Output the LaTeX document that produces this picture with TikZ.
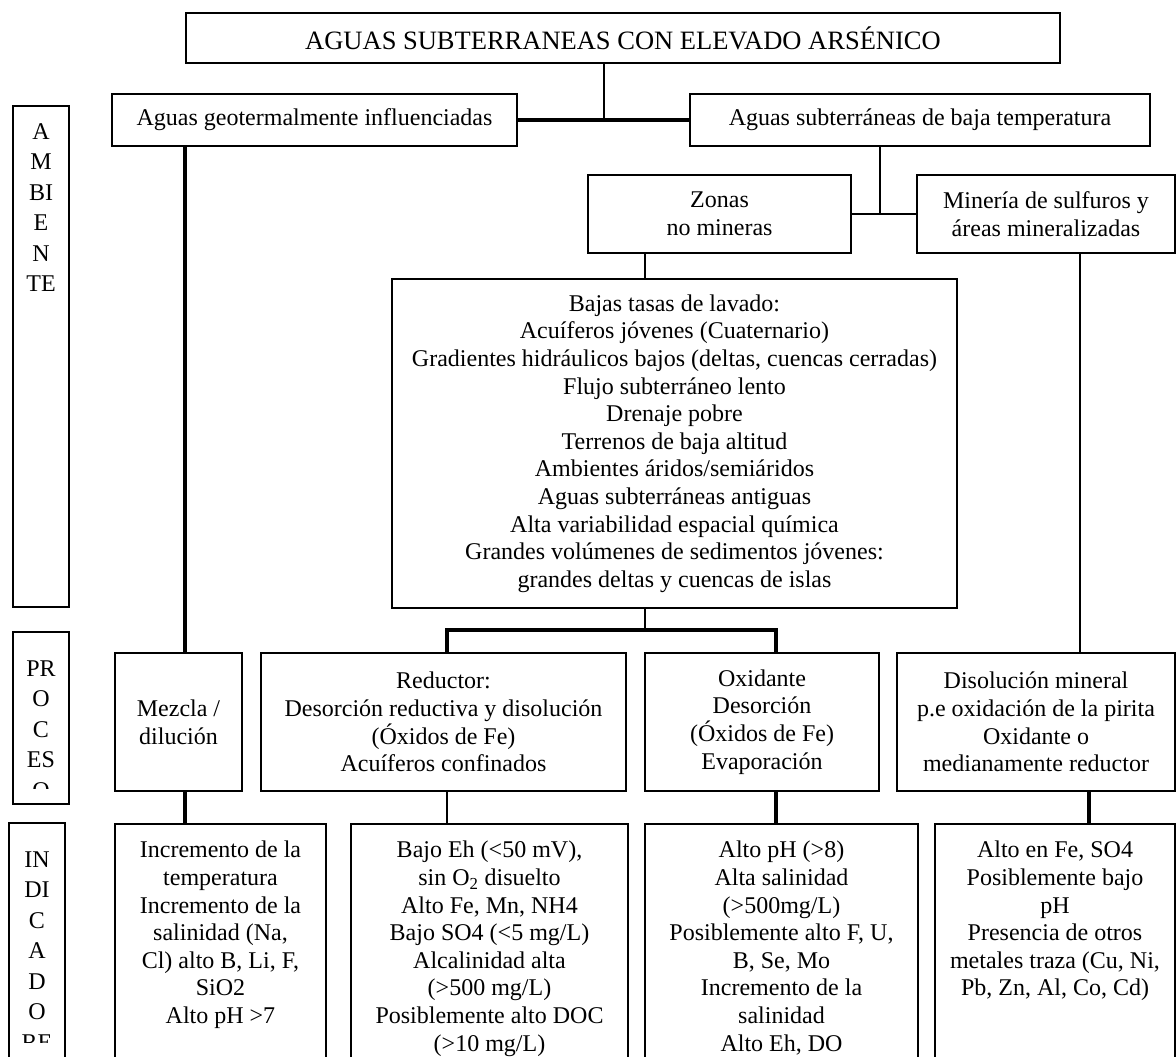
\documentclass[tikz,border=0pt]{standalone}
\usepackage{fontspec}
\setmainfont{Liberation Serif}

\begin{document}
\begin{tikzpicture}[x=1pt, y=-1pt,
    box/.style={draw, line width=1.6pt, align=center, inner sep=0pt,
        font=\fontsize{24}{27.6}\selectfont},
    ind/.style={draw, line width=1.6pt, anchor=north, inner xsep=0pt, inner ysep=17.5pt,
        font=\fontsize{24}{27.6}\selectfont},
    side/.style={draw, line width=1.6pt, inner sep=0pt},
    sidetxt/.style={anchor=north, align=center, inner sep=0pt,
        font=\fontsize{24}{30.5}\selectfont},
    conn/.style={line width=1.8pt},
    thickconn/.style={line width=3.5pt}]
    \clip (0,0) rectangle (1176,1057);

    % columns of the connectors
    \coordinate (cT) at (604,0);
    \coordinate (cA) at (185,0);
    \coordinate (cJ) at (880,0);
    \coordinate (cZ) at (645,0);
    \coordinate (cB) at (447,0);
    \coordinate (cC) at (776,0);
    \coordinate (cD) at (1080,0);
    \coordinate (cE) at (1089,0);
    \coordinate (bar) at (0,630);

    % ambiente
    \node[box, minimum width=874, minimum height=50,
        font=\fontsize{26.5}{30}\selectfont] (root) at (623,38)
        {AGUAS SUBTERRANEAS CON ELEVADO ARSÉNICO};
    \node[box, minimum width=405, minimum height=52] (geo) at (314.5,120)
        {Aguas geotermalmente influenciadas};
    \node[box, minimum width=460, minimum height=52] (baja) at (920,120)
        {Aguas subterráneas de baja temperatura};
    \node[box, minimum width=263, minimum height=78] (zon) at (719.5,214)
        {Zonas\\no mineras};
    \node[box, minimum width=258, minimum height=78] (min) at (1046,214)
        {Minería de sulfuros y\\áreas mineralizadas};
    \node[box, minimum width=565, minimum height=329] (baj) at (674.5,443.5)
        {Bajas tasas de lavado:\\
         Acuíferos jóvenes (Cuaternario)\\
         Gradientes hidráulicos bajos (deltas, cuencas cerradas)\\
         Flujo subterráneo lento\\
         Drenaje pobre\\
         Terrenos de baja altitud\\
         Ambientes áridos/semiáridos\\
         Aguas subterráneas antiguas\\
         Alta variabilidad espacial química\\
         Grandes volúmenes de sedimentos jóvenes:\\
         grandes deltas y cuencas de islas};

    % procesos
    \node[box, minimum width=127, minimum height=138] (mez) at (178.5,722)
        {Mezcla /\\dilución};
    \node[box, minimum width=365, minimum height=138] (red) at (443.5,722)
        {Reductor:\\Desorción reductiva y disolución\\(Óxidos de Fe)\\Acuíferos confinados};
    \node[box, minimum width=234, minimum height=138] (oxi) at (762,722)
        {Oxidante\\Desorción\\(Óxidos de Fe)\\Evaporación};
    \node[box, minimum width=278, minimum height=138] (dis) at (1036,722)
        {Disolución mineral\\p.e oxidación de la pirita\\Oxidante o\\medianamente reductor};

    % indicadores
    \node[ind] (i1) at (220.5,823) {\parbox[c][280pt][t]{211pt}{\centering
        Incremento de la\\temperatura\\Incremento de la\\salinidad (Na,\\
        Cl) alto B, Li, F,\\SiO2\\Alto pH >7}};
    \node[ind] (i2) at (489.5,823) {\parbox[c][280pt][t]{277pt}{\centering
        Bajo Eh (<50 mV),\\sin O\textsubscript{2} disuelto\\Alto Fe, Mn, NH4\\
        Bajo SO4 (<5 mg/L)\\Alcalinidad alta\\(>500 mg/L)\\
        Posiblemente alto DOC\\(>10 mg/L)}};
    \node[ind] (i3) at (781.5,823) {\parbox[c][280pt][t]{273pt}{\centering
        Alto pH (>8)\\Alta salinidad\\(>500mg/L)\\Posiblemente alto F, U,\\
        B, Se, Mo\\Incremento de la\\salinidad\\Alto Eh, DO}};
    \node[ind] (i4) at (1055,823) {\parbox[c][280pt][t]{240pt}{\centering
        Alto en Fe, SO4\\Posiblemente bajo\\pH\\Presencia de otros\\
        metales traza (Cu, Ni,\\Pb, Zn, Al, Co, Cd)}};

    % side labels
    \node[side, minimum width=56, minimum height=501] (amb) at (41,356.5) {};
    \node[side, minimum width=56, minimum height=172] (pro) at (41,718) {};
    \node[side, minimum width=56, minimum height=277] (indi) at (37,961.5) {};
    \begin{scope}
        \clip (amb.north west) rectangle ([yshift=10pt]amb.south east);
        \node[sidetxt] (ambt) at ([yshift=-18pt]amb.north) {A\\M\\BI\\E\\N\\TE};
    \end{scope}
    \begin{scope}
        \clip (pro.north west) rectangle ([yshift=16pt]pro.south east);
        \node[sidetxt] (prot) at ([yshift=-29pt]pro.north) {PR\\O\\C\\ES\\O};
    \end{scope}
    \begin{scope}
        \clip (indi.north west) rectangle ([yshift=58pt]indi.south east);
        \node[sidetxt] (indt) at ([yshift=-29pt]indi.north) {IN\\DI\\C\\A\\D\\O\\RE\\S};
    \end{scope}

    % connectors
    \draw[conn] (root.south -| cT) -- (cT |- geo.east);
    \draw[thickconn] (geo.east) -- (baja.west);
    \draw[thickconn] (geo.south -| cA) -- (mez.north -| cA);
    \draw[conn] (baja.south -| cJ) -- (cJ |- zon.east);
    \draw[conn] (zon.east) -- (min.west);
    \draw[conn] (zon.south -| cZ) -- (baj.north -| cZ);
    \draw[conn] (baj.south -| cZ) -- (cZ |- bar);
    \draw[thickconn] (red.north -| cB) -- (cB |- bar) -- (cC |- bar) -- (oxi.north -| cC);
    \draw[conn] (min.south -| cD) -- (dis.north -| cD);
    \draw[thickconn] (mez.south -| cA) -- (i1.north -| cA);
    \draw[conn] (red.south -| cB) -- (i2.north -| cB);
    \draw[thickconn] (oxi.south -| cC) -- (i3.north -| cC);
    \draw[thickconn] (dis.south -| cE) -- (i4.north -| cE);
\end{tikzpicture}
\end{document}
